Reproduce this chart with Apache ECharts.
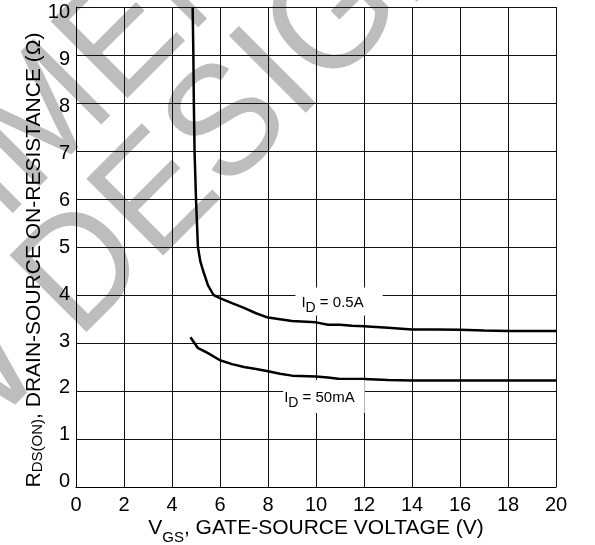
<!DOCTYPE html>
<html>
<head>
<meta charset="utf-8">
<script src="https://cdn.jsdelivr.net/npm/echarts@6.0.0/dist/echarts.min.js"></script>
<style>
  html, body { margin: 0; padding: 0; background: #fff; }
  #main { width: 595px; height: 545px; }
</style>
</head>
<body>
<div id="main"></div>
<script>
// I_D = 0.5A curve
var vgs05 = [4.86, 4.89, 4.91, 4.94, 4.97, 5.0, 5.04, 5.08, 5.18, 5.3, 5.5, 5.73, 6.02, 6.5, 7.0, 7.5, 8.0, 9.0, 10.0, 10.5, 11.0, 11.5, 12.0, 13.0, 14.0, 15.0, 16.0, 17.0, 18.0, 19.0, 20.0];
var rds05 = [10.0, 9.0, 8.0, 7.0, 6.5, 6.0, 5.5, 5.0, 4.7, 4.5, 4.2, 4.0, 3.93, 3.83, 3.73, 3.62, 3.53, 3.46, 3.43, 3.38, 3.38, 3.36, 3.35, 3.32, 3.28, 3.28, 3.275, 3.26, 3.25, 3.25, 3.25];
// I_D = 50mA curve
var vgs50m = [4.77, 5.07, 5.5, 6.0, 6.5, 7.0, 7.5, 8.0, 8.5, 9.0, 10.0, 10.5, 11.0, 12.0, 13.0, 14.0, 16.0, 18.0, 20.0];
var rds50m = [3.12, 2.9, 2.79, 2.64, 2.56, 2.5, 2.46, 2.41, 2.36, 2.32, 2.30, 2.28, 2.25, 2.25, 2.23, 2.22, 2.22, 2.22, 2.22];

var xTicks = [0, 2, 4, 6, 8, 10, 12, 14, 16, 18, 20];
var yTicks = [0, 1, 2, 3, 4, 5, 6, 7, 8, 9, 10];

// where the curve labels sit (data coords)
var label05At = [10.96, 3.865];
var label50At = [10.33, 1.885];

function pairs(xs, ys) {
  return xs.map(function (x, i) { return [x, ys[i]]; });
}

var FONT = 'Liberation Sans, Arial, sans-serif';

// watermark text, rotated 45deg, sits on its own layer under the grid
function mark(text, x, y, align) {
  return {
    type: 'text', x: x, y: y, rotation: Math.PI / 4, scaleX: 0.95, zlevel: -1,
    style: { text: text, fill: '#bdbdbd', fontSize: 158, fontFamily: FONT, align: align, verticalAlign: 'middle' }
  };
}

// y tick labels in the original sit a little closer together than the grid lines
var yLabelRich = {};
yTicks.forEach(function (v) {
  var d = Math.round((v - 5) * 2.2);
  yLabelRich['p' + v] = {
    fontSize: 20, fontFamily: FONT, color: '#000',
    padding: d >= 0 ? [d, 0, 0, 0] : [0, 0, -d, 0]
  };
});

var chart = echarts.init(document.getElementById('main'));

var option = {
  animation: false,
  grid: { left: 76, right: 39, top: 7, bottom: 58, containLabel: false, outerBoundsMode: 'none' },
  graphic: [
    mark('DESIGN', 47, 310, 'left'),
    mark('NEW', 18, 340, 'right'),
    mark('NOT RECOMMENDED FOR', -649, 813, 'left')
  ],
  xAxis: {
    type: 'value',
    min: xTicks[0],
    max: xTicks[xTicks.length - 1],
    interval: 2,
    name: '{a|V}{s|GS}{a|, GATE-SOURCE VOLTAGE (V)}',
    nameLocation: 'middle',
    nameGap: 25,
    nameMoveOverlap: false,
    nameTextStyle: {
      rich: {
        a: { fontSize: 21, fontFamily: FONT, color: '#000' },
        s: { fontSize: 15, fontFamily: FONT, color: '#000', padding: [18, 0, 0, 0] }
      }
    },
    axisLine: { show: true, lineStyle: { color: '#000', width: 1 } },
    axisTick: { show: false },
    axisLabel: { fontSize: 20, fontFamily: FONT, color: '#000', margin: 8 },
    splitLine: { show: true, lineStyle: { color: '#111', width: 1 } }
  },
  yAxis: {
    type: 'value',
    min: yTicks[0],
    max: yTicks[yTicks.length - 1],
    interval: 1,
    name: '{a|R}{s|DS(ON)}{a|, DRAIN-SOURCE ON-RESISTANCE (\u03A9)}',
    nameLocation: 'middle',
    nameRotate: 90,
    nameGap: 31,
    nameMoveOverlap: false,
    nameTextStyle: {
      padding: [0, 26, 0, 0],
      rich: {
        a: { fontSize: 21, fontFamily: FONT, color: '#000' },
        s: { fontSize: 15, fontFamily: FONT, color: '#000', padding: [6, 0, 0, 0] }
      }
    },
    axisLine: { show: true, lineStyle: { color: '#000', width: 1 } },
    axisTick: { show: false },
    axisLabel: {
      fontSize: 20, fontFamily: FONT, color: '#000', margin: 6,
      formatter: function (v) { return '{p' + v + '|' + v + '}'; },
      rich: yLabelRich
    },
    splitLine: { show: true, lineStyle: { color: '#111', width: 1 } }
  },
  series: [
    {
      name: 'ID = 0.5A',
      type: 'line',
      data: pairs(vgs05, rds05),
      showSymbol: false,
      clip: true,
      lineStyle: { color: '#000', width: 2.5 },
      markPoint: {
        symbol: 'rect',
        symbolSize: 1,
        itemStyle: { color: 'rgba(0,0,0,0)' },
        data: [{ coord: label05At }],
        label: {
          show: true,
          position: 'inside',
          formatter: '{a|I}{s|D}{a| = 0.5A}',
          backgroundColor: '#fff',
          padding: [3, 19, 0, 6],
          rich: {
            a: { fontSize: 15, fontFamily: FONT, color: '#000' },
            s: { fontSize: 14, fontFamily: FONT, color: '#000', padding: [11, 0, 0, 0] }
          }
        }
      }
    },
    {
      name: 'ID = 50mA',
      type: 'line',
      data: pairs(vgs50m, rds50m),
      showSymbol: false,
      clip: true,
      lineStyle: { color: '#000', width: 2.5 },
      markPoint: {
        symbol: 'rect',
        symbolSize: 1,
        itemStyle: { color: 'rgba(0,0,0,0)' },
        data: [{ coord: label50At }],
        label: {
          show: true,
          position: 'inside',
          formatter: '{a|I}{s|D}{a| = 50mA}',
          backgroundColor: '#fff',
          padding: [5, 10, 3, 1],
          rich: {
            a: { fontSize: 15, fontFamily: FONT, color: '#000' },
            s: { fontSize: 14, fontFamily: FONT, color: '#000', padding: [11, 0, 0, 0] }
          }
        }
      }
    }
  ]
};

chart.setOption(option);
</script>
</body>
</html>
